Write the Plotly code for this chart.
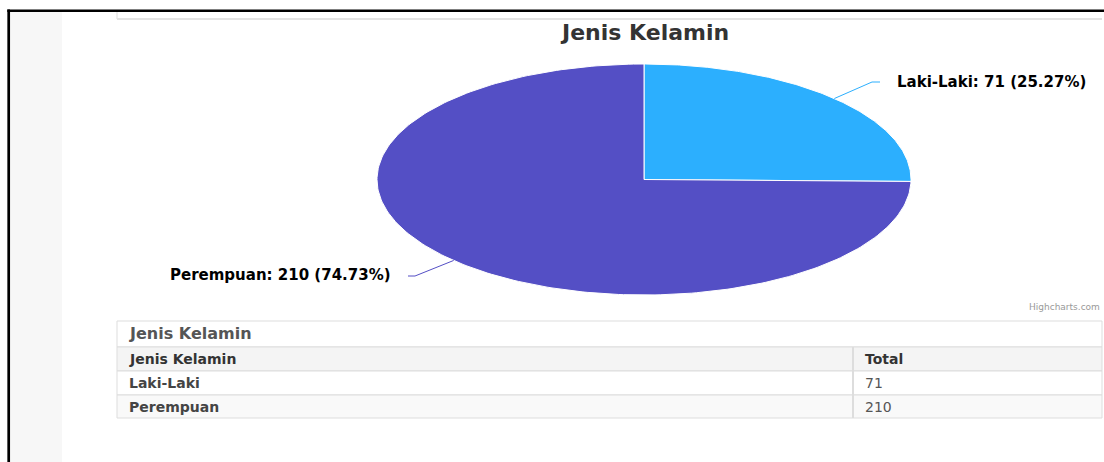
import numpy as np
import plotly.graph_objects as go

# ---------------- data ----------------
chart_title = "Jenis Kelamin"
categories = ["Laki-Laki", "Perempuan"]
values = [71, 210]
slice_colors = ["#2caffe", "#544fc5"]
table_title = "Jenis Kelamin"
table_header = ["Jenis Kelamin", "Total"]
credit_text = "Highcharts.com"

# ---------------- layout constants (pixels) ----------------
W, H = 1104, 462
CX, CY, RX, RY = 644, 179.5, 267, 115.5
FONT = "DejaVu Sans"

total = sum(values)
fig = go.Figure()

# pie slices drawn as filled paths (elliptical pie as in the reference)
start = 0.0
mids = []
for cat, val, col in zip(categories, values, slice_colors):
    frac = val / total
    th = np.linspace(start, start + frac * 2 * np.pi, 240)
    xs = np.concatenate([[CX], CX + RX * np.sin(th), [CX]])
    ys = np.concatenate([[CY], CY - RY * np.cos(th), [CY]])
    fig.add_trace(go.Scatter(
        x=xs, y=ys, fill="toself", fillcolor=col, mode="lines",
        line=dict(color="#ffffff", width=1), hoverinfo="text",
        text=f"{cat}: {val}", showlegend=False))
    mids.append(start + frac * np.pi)
    start += frac * 2 * np.pi

# data labels with connectors
label_layout = [
    dict(bend=(872, 82), end=(880, 82), tx=895, ty=82, anchor="left"),
    dict(bend=(415, 276), end=(408, 276), tx=393, ty=275, anchor="right"),
]
for cat, val, col, mid, lab in zip(categories, values, slice_colors, mids, label_layout):
    ex = CX + RX * np.sin(mid)
    ey = CY - RY * np.cos(mid)
    fig.add_trace(go.Scatter(
        x=[ex, lab["bend"][0], lab["end"][0]], y=[ey, lab["bend"][1], lab["end"][1]],
        mode="lines", line=dict(color=col, width=1), hoverinfo="skip", showlegend=False))
    fig.add_annotation(
        x=lab["tx"], y=lab["ty"], xref="x", yref="y", showarrow=False,
        xanchor=lab["anchor"], yanchor="middle",
        text=f"<b>{cat}: {val} ({val / total * 100:.2f}%)</b>",
        font=dict(family=FONT, size=15, color="#000000"))

# chart title
fig.add_annotation(x=CX, y=32, xref="x", yref="y", showarrow=False,
                   xanchor="center", yanchor="middle",
                   text=f"<b>{chart_title}</b>",
                   font=dict(family=FONT, size=22, color="#333333"))

# credits
fig.add_annotation(x=1102, y=307, xref="x", yref="y", showarrow=False,
                   xanchor="right", yanchor="middle", text=credit_text,
                   font=dict(family=FONT, size=9, color="#999999"))

# ---------------- table ----------------
TX0, TX1, TCOL = 117, 1102, 853
row_edges = [321, 347, 371, 395, 418]  # title, header, rows
row_fills = ["#ffffff", "#f4f4f4", "#ffffff", "#f9f9f9"]
shapes = [
    # left gray strip
    dict(type="rect", x0=10, x1=62, y0=12, y1=H, fillcolor="#f7f7f7", line_width=0, layer="below"),
    # remnant of the panel above
    dict(type="line", x0=117, x1=117, y0=12, y1=19, line=dict(color="#dddddd", width=1)),
    dict(type="line", x0=117, x1=1102, y0=19, y1=19, line=dict(color="#e3e3e3", width=2)),
]
for i, fill in enumerate(row_fills):
    shapes.append(dict(type="rect", x0=TX0, x1=TX1, y0=row_edges[i], y1=row_edges[i + 1],
                       fillcolor=fill, line=dict(color="#dddddd", width=1), layer="below"))
shapes.append(dict(type="line", x0=TCOL, x1=TCOL, y0=row_edges[1], y1=row_edges[-1],
                   line=dict(color="#dddddd", width=2)))

fig.add_annotation(x=127, y=(row_edges[0] + row_edges[1]) / 2 - 1, xref="x", yref="y",
                   showarrow=False, xanchor="left", yanchor="middle",
                   text=f"<b>{table_title}</b>",
                   font=dict(family=FONT, size=16, color="#555555"))

col_x = [127, 863]
for j, h in enumerate(table_header):
    fig.add_annotation(x=col_x[j], y=(row_edges[1] + row_edges[2]) / 2, xref="x", yref="y",
                       showarrow=False, xanchor="left", yanchor="middle",
                       text=f"<b>{h}</b>", font=dict(family=FONT, size=14, color="#333333"))
for i, (cat, val) in enumerate(zip(categories, values)):
    yc = (row_edges[2 + i] + row_edges[3 + i]) / 2
    fig.add_annotation(x=col_x[0], y=yc, xref="x", yref="y", showarrow=False,
                       xanchor="left", yanchor="middle", text=f"<b>{cat}</b>",
                       font=dict(family=FONT, size=14, color="#444444"))
    fig.add_annotation(x=col_x[1], y=yc, xref="x", yref="y", showarrow=False,
                       xanchor="left", yanchor="middle", text=str(val),
                       font=dict(family=FONT, size=14, color="#555555"))

# black frame
shapes += [
    dict(type="line", x0=7.3, x1=W, y0=10.75, y1=10.75, line=dict(color="#000000", width=2.5)),
    dict(type="line", x0=8.7, x1=8.7, y0=9.5, y1=H, line=dict(color="#000000", width=2.7)),
]

fig.update_layout(
    width=W, height=H, margin=dict(l=0, r=0, t=0, b=0),
    paper_bgcolor="#ffffff", plot_bgcolor="rgba(0,0,0,0)",
    xaxis=dict(range=[0, W], visible=False, fixedrange=True, domain=[0, 1]),
    yaxis=dict(range=[H, 0], visible=False, fixedrange=True, domain=[0, 1]),
    shapes=shapes, showlegend=False,
)

fig.write_html("out.html")
